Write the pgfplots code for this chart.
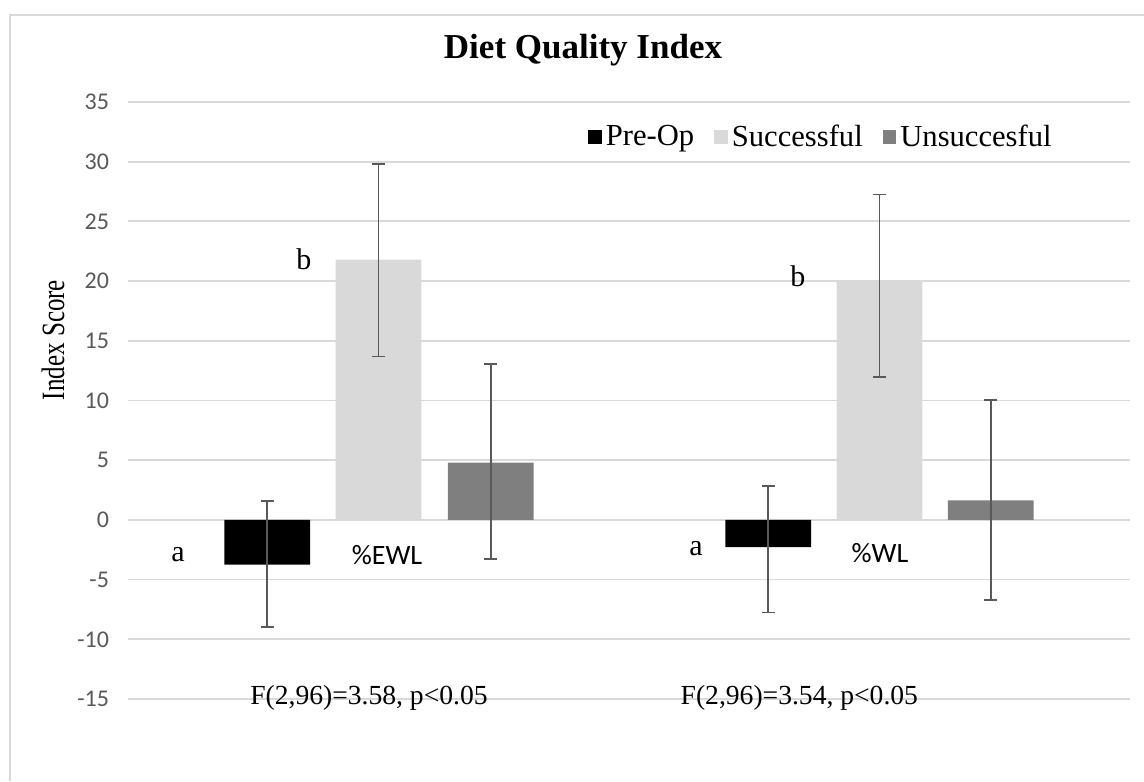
\documentclass[border=0pt]{standalone}
\usepackage{graphicx}
\usepackage{pgfplots}
\pgfplotsset{compat=1.18}
\usepackage{fontspec}
\setmainfont{Liberation Serif}
\newfontfamily\carlito{Carlito}
\definecolor{gridgray}{HTML}{D9D9D9}
\definecolor{succgray}{HTML}{D9D9D9}
\definecolor{unsgray}{HTML}{7F7F7F}
\definecolor{errgray}{HTML}{595959}
\definecolor{tickgray}{HTML}{595959}
\pgfplotsset{
  sqleg/.style={legend image code/.code={\fill[##1] (0pt,-3.4pt) rectangle (6.8pt,3.4pt);}},
  errs/.style={error bars/.cd, y dir=both, y explicit,
    error bar style={line width=0.9pt, color=errgray},
    error mark options={rotate=90, mark size=3.25pt, line width=0.9pt, color=errgray}},
}
\begin{document}
\begin{tikzpicture}
\useasboundingbox (0,0) rectangle (572pt,390.5pt);
\draw[gridgray, line width=1pt] (5pt,0) -- (5pt,383pt) -- (572pt,383pt);
\begin{axis}[
  at={(64pt,41pt)}, anchor=south west,
  scale only axis, width=501pt, height=298.5pt,
  xmin=-0.5, xmax=1.5, ymin=-15, ymax=35,
  ytick={-15,-10,...,35}, xtick=\empty,
  ymajorgrids, grid style={line width=0.9pt, gridgray},
  axis line style={draw=none}, major tick length=0pt,
  /pgf/number format/assume math mode=true,
  yticklabel style={font=\carlito\fontsize{12}{14}\selectfont, text=tickgray, xshift=-6pt},
  ybar, bar width=0.171, bar shift=0pt,
  clip=false,
  legend columns=-1,
  legend style={at={(0.459,0.941)}, anchor=west, draw=none, fill=none, inner sep=0pt,
    font=\fontsize{15.3}{18}\selectfont,
    /tikz/every even column/.append style={column sep=8pt}},
]
\addplot[fill=black, draw=none, sqleg, errs] coordinates {
  (-0.222,-3.75) += (0,5.30) -= (0,5.23)
  (0.778,-2.28) += (0,5.11) -= (0,5.47)
};
\addlegendentry{Pre-Op}
\addplot[fill=succgray, draw=none, sqleg, errs] coordinates {
  (0,21.79) += (0,8.04) -= (0,8.10)
  (1,20.06) += (0,7.20) -= (0,8.10)
};
\addlegendentry{Successful}
\addplot[fill=unsgray, draw=none, sqleg, errs] coordinates {
  (0.224,4.79) += (0,8.29) -= (0,8.07)
  (1.222,1.63) += (0,8.44) -= (0,8.31)
};
\addlegendentry{Unsuccesful}
\node[font=\fontsize{15}{18}\selectfont] at (axis cs:-0.400,-2.9) {a};
\node[font=\fontsize{15}{18}\selectfont] at (axis cs:0.634,-2.4) {a};
\node[font=\fontsize{15}{18}\selectfont] at (axis cs:-0.149,21.8) {b};
\node[font=\fontsize{15}{18}\selectfont] at (axis cs:0.837,20.4) {b};
\node[font=\carlito\fontsize{14}{16}\selectfont] at (axis cs:0.017,-2.97) {\%EWL};
\node[font=\carlito\fontsize{14}{16}\selectfont] at (axis cs:1.001,-2.8) {\%WL};
\node[font=\fontsize{13.8}{16}\selectfont] at (axis cs:-0.019,-14.87) {F(2,96)=3.58, p<0.05};
\node[font=\fontsize{13.8}{16}\selectfont] at (axis cs:0.84,-14.87) {F(2,96)=3.54, p<0.05};
\end{axis}
\node[rotate=90] at (26.5pt,220.5pt) {\fontsize{12.5}{15}\selectfont\scalebox{1}[1.3]{Index Score}};
\node[font=\bfseries\fontsize{17.5}{21}\selectfont] at (291.5pt,365.5pt) {Diet Quality Index};
\end{tikzpicture}
\end{document}
